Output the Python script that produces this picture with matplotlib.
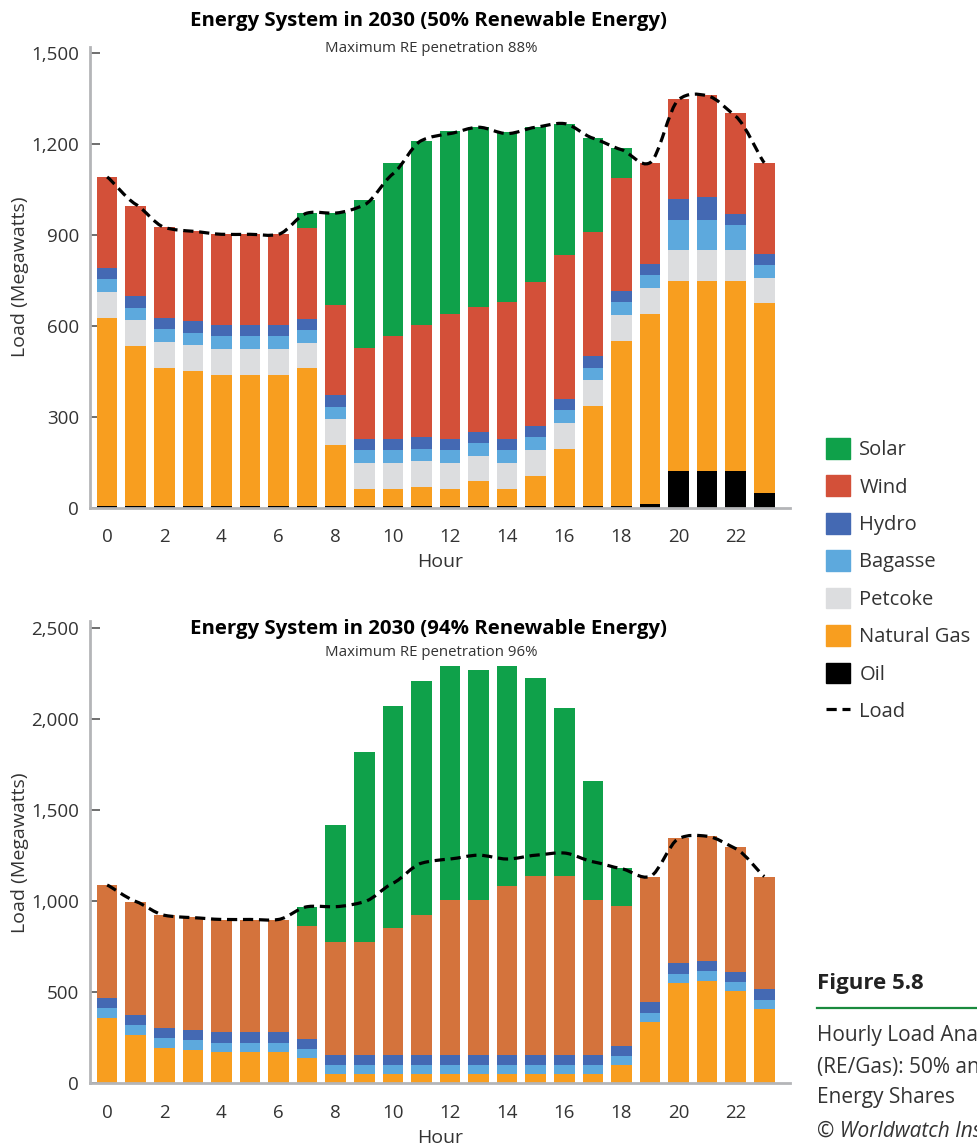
import numpy as np
import matplotlib.pyplot as plt
from matplotlib.path import Path
from matplotlib.patches import PathPatch, Patch
from matplotlib.lines import Line2D
from matplotlib.ticker import StrMethodFormatter

plt.rcParams['font.family'] = ['Open Sans', 'DejaVu Sans']

# hours of the day
hours = list(range(24))

# hourly load (MW), same for both scenarios
load = [1090, 1000, 924, 911, 901, 901, 901, 971, 971, 998, 1100, 1210,
        1233, 1254, 1233, 1254, 1266, 1218, 1180, 1137, 1345, 1358, 1290, 1137]

# --- 50% renewable scenario (MW) ---
oil_50 = [5, 5, 5, 5, 5, 5, 5, 5, 5, 5, 5, 5, 5, 5, 5, 5, 5, 5, 5, 12, 120, 120, 120, 48]
gas_50 = [620, 527, 455, 445, 432, 432, 432, 455, 201, 56, 56, 62, 56, 82, 56, 99,
          188, 330, 544, 626, 627, 627, 627, 627]
petcoke_50 = [85, 86, 86, 86, 86, 86, 86, 82, 86, 86, 86, 86, 86, 83, 86, 86,
              86, 85, 86, 86, 103, 103, 103, 82]
bagasse_50 = [43, 41, 43, 39, 42, 42, 42, 43, 39, 43, 43, 40, 43, 43, 43, 42,
              42, 40, 42, 43, 98, 98, 81, 43]
hydro_50 = [38, 39, 37, 40, 37, 37, 37, 36, 40, 36, 36, 39, 36, 37, 36, 38,
            37, 41, 37, 37, 69, 76, 38, 37]
wind_50 = [299, 296, 299, 298, 300, 300, 300, 301, 297, 301, 340, 370, 413, 411,
           453, 475, 474, 409, 373, 333, 330, 336, 331, 300]
solar_50 = [0, 0, 0, 0, 0, 0, 0, 50, 304, 488, 571, 606, 602, 593, 560, 509,
            433, 308, 98, 0, 0, 0, 0, 0]

# --- 94% renewable scenario (MW) ---
gas_94 = [360, 266, 195, 184, 173, 173, 173, 140, 52, 52, 52, 52, 52, 52, 52, 52,
          52, 52, 101, 338, 552, 563, 508, 409]
bagasse_94 = [55, 55, 55, 55, 49, 49, 49, 50, 50, 50, 50, 50, 50, 50, 50, 50,
              50, 50, 50, 49, 50, 55, 49, 50]
hydro_94 = [55, 54, 55, 55, 61, 61, 61, 54, 54, 54, 54, 54, 54, 54, 54, 54,
            54, 54, 55, 61, 60, 55, 55, 60]
wind_94 = [621, 623, 621, 621, 617, 617, 617, 621, 621, 621, 698, 770, 852, 852,
           929, 984, 984, 852, 769, 687, 687, 687, 687, 616]
solar_94 = [0, 0, 0, 0, 0, 0, 0, 105, 643, 1045, 1220, 1285, 1286, 1264, 1209,
            1088, 923, 654, 209, 0, 0, 0, 0, 0]

c_solar = '#0FA14A'
c_wind = '#D35039'
c_wind94 = '#D4733C'
c_hydro = '#4469B3'
c_bagasse = '#5DA9DD'
c_petcoke = '#DCDDDF'
c_gas = '#F89E1F'
c_oil = '#000000'
txt = '#333333'
dash = (0, (3.2, 1.8))


def smooth_path(x, y, k=9.0):
    # bezier curve through the load points (Catmull-Rom type, softer tension)
    x = np.asarray(x, float)
    y = np.asarray(y, float)
    n = len(x)
    verts = [(x[0], y[0])]
    codes = [Path.MOVETO]
    for i in range(n - 1):
        x0, y0 = (x[i - 1], y[i - 1]) if i > 0 else (x[i], y[i])
        x3, y3 = (x[i + 2], y[i + 2]) if i + 2 < n else (x[i + 1], y[i + 1])
        c1 = (x[i] + (x[i + 1] - x0) / 6, y[i] + (y[i + 1] - y0) / k)
        c2 = (x[i + 1] - (x3 - x[i]) / 6, y[i + 1] - (y3 - y[i]) / k)
        verts += [c1, c2, (x[i + 1], y[i + 1])]
        codes += [Path.CURVE4] * 3
    return Path(verts, codes)


def stacked(ax, layers):
    bottom = np.zeros(len(hours))
    for vals, col in layers:
        ax.bar(hours, vals, bottom=bottom, width=0.72, color=col, linewidth=0, zorder=2)
        bottom += np.array(vals)
    ax.add_patch(PathPatch(smooth_path(hours, load), fill=False, edgecolor='black',
                           linewidth=2.3, linestyle=dash, zorder=3))


def style(ax, ymax, ticks):
    ax.set_xlim(-0.6, 23.9)
    ax.set_ylim(0, ymax)
    ax.set_yticks(ticks)
    ax.yaxis.set_major_formatter(StrMethodFormatter('{x:,.0f}'))
    ax.set_xticks(range(0, 24, 2))
    for s in ['top', 'right']:
        ax.spines[s].set_visible(False)
    for s in ['left', 'bottom']:
        ax.spines[s].set_color('#B4B5B8')
        ax.spines[s].set_linewidth(2)
    ax.tick_params(axis='y', direction='in', length=7, width=1.2, color='#555555',
                   labelsize=13.5, labelcolor=txt, pad=8)
    ax.tick_params(axis='x', length=0, labelsize=13.5, labelcolor=txt, pad=15)
    ax.set_xlabel('Hour', fontsize=14, color=txt, labelpad=5)
    ax.set_ylabel('Load (Megawatts)', fontsize=14, color=txt)
    ax.yaxis.set_label_coords(-0.087, 0.5)


fig = plt.figure(figsize=(9.77, 11.47), dpi=100)
ax1 = fig.add_axes([0.0921, 0.5575, 0.7165, 0.4019])
ax2 = fig.add_axes([0.0921, 0.0554, 0.7165, 0.4031])

stacked(ax1, [(oil_50, c_oil), (gas_50, c_gas), (petcoke_50, c_petcoke),
              (bagasse_50, c_bagasse), (hydro_50, c_hydro), (wind_50, c_wind),
              (solar_50, c_solar)])
style(ax1, 1520, [0, 300, 600, 900, 1200, 1500])

stacked(ax2, [(gas_94, c_gas), (bagasse_94, c_bagasse), (hydro_94, c_hydro),
              (wind_94, c_wind94), (solar_94, c_solar)])
style(ax2, 2540, [0, 500, 1000, 1500, 2000, 2500])

# titles
fig.text(429 / 977, 1 - 21 / 1147, 'Energy System in 2030 (50% Renewable Energy)',
         ha='center', va='center', fontsize=14.7, fontweight='bold', color='black')
fig.text(431 / 977, 1 - 49 / 1147, 'Maximum RE penetration 88%',
         ha='center', va='center', fontsize=10.8, color=txt)
fig.text(429 / 977, 1 - 629 / 1147, 'Energy System in 2030 (94% Renewable Energy)',
         ha='center', va='center', fontsize=14.7, fontweight='bold', color='black')
fig.text(431 / 977, 1 - 653 / 1147, 'Maximum RE penetration 96%',
         ha='center', va='center', fontsize=10.8, color=txt)

# legend
handles = [Patch(color=c_solar, label='Solar'),
           Patch(color=c_wind, label='Wind'),
           Patch(color=c_hydro, label='Hydro'),
           Patch(color=c_bagasse, label='Bagasse'),
           Patch(color=c_petcoke, label='Petcoke'),
           Patch(color=c_gas, label='Natural Gas'),
           Patch(color=c_oil, label='Oil'),
           Line2D([], [], color='black', linewidth=2.3, linestyle=dash, label='Load')]
fig.legend(handles=handles, loc='upper left', bbox_to_anchor=(816 / 977, 1 - 428 / 1147),
           frameon=False, fontsize=14.5, handlelength=1.2, handleheight=1.2,
           handletextpad=0.45, labelspacing=0.76, borderpad=0, labelcolor=txt)

# caption
fig.text(817 / 977, 1 - 983 / 1147, 'Figure 5.8', ha='left', va='center',
         fontsize=16, fontweight='bold', color='#222222')
fig.add_artist(Line2D([817 / 977, 1.0], [1 - 1008 / 1147] * 2, color='#1A8A3E',
                      linewidth=1.6, transform=fig.transFigure))
fig.text(817 / 977, 1 - 1036 / 1147, 'Hourly Load Analysis', ha='left', va='center',
         fontsize=15, color=txt)
fig.text(817 / 977, 1 - 1067 / 1147, '(RE/Gas): 50% and 94% Renewable', ha='left',
         va='center', fontsize=15, color=txt)
fig.text(817 / 977, 1 - 1098 / 1147, 'Energy Shares', ha='left', va='center',
         fontsize=15, color=txt)
fig.text(817 / 977, 1 - 1131 / 1147, '© Worldwatch Institute', ha='left', va='center',
         fontsize=15, color=txt, style='italic')

plt.savefig('out.png', dpi=100)
